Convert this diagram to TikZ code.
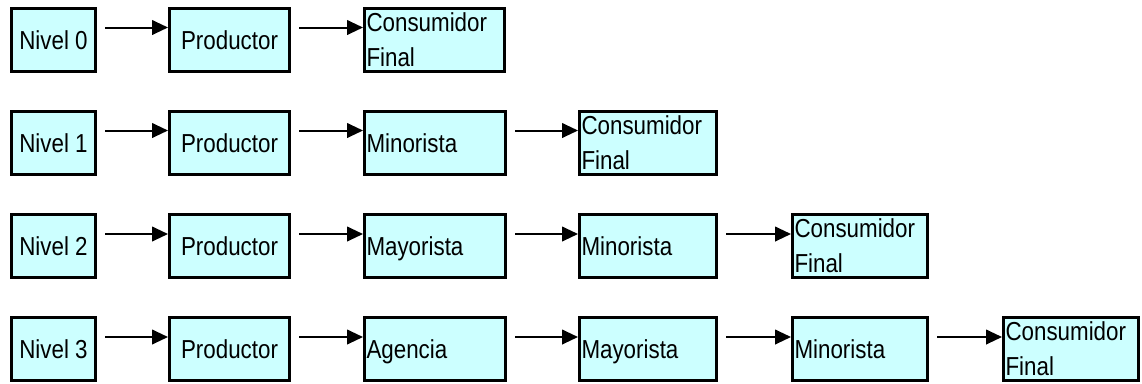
\documentclass[tikz,border=0pt]{standalone}
\usepackage{fontspec}
\setmainfont{Liberation Sans}[FakeStretch=0.86]
\usetikzlibrary{arrows.meta,calc}
\definecolor{celeste}{RGB}{204,255,255}

\tikzset{every picture/.style={line width=0.75pt}}

\begin{document}
\begin{tikzpicture}[x=0.75pt,y=0.75pt,yscale=-1,xscale=1,
    caja/.style={draw, fill=celeste, line width=2.25pt, minimum height=47.25pt, inner sep=0pt, font=\fontsize{19.5}{26.25}\selectfont},
    nivel/.style={caja, minimum width=63pt, text height=14.6pt, text depth=0pt},
    prod/.style={caja, minimum width=90pt, text height=14.6pt, text depth=0pt},
    etapa/.style={caja, text width=#1, align=left, inner xsep=1.5pt, text height=14.6pt, text depth=0pt},
    final/.style={caja, text width=#1, align=left, inner xsep=1.5pt},
    flecha/.style={line width=1.5pt, -{Triangle[length=12pt,width=11pt]}}]
\useasboundingbox (0,0) rectangle (1142,383);

% Nivel 0
\node [nivel] (n0) at (53.5,39.5) {Nivel 0};
\node [prod] (p0) at (229.5,39.5) {Productor};
\node [final=102pt] (c0) at (434.5,39.5) {Consumidor\\Final};
\draw [flecha] ($(n0.east)+(8,-12)$) -- ($(p0.west)+(0,-12)$);
\draw [flecha] ($(p0.east)+(8,-12)$) -- ($(c0.west)+(0,-12)$);

% Nivel 1
\node [nivel] (n1) at (53.5,142.5) {Nivel 1};
\node [prod] (p1) at (229.5,142.5) {Productor};
\node [etapa=102.75pt] (m1) at (435,142.5) {Minorista};
\node [final=99.75pt] (c1) at (648,142.5) {Consumidor\\Final};
\draw [flecha] ($(n1.east)+(8,-12)$) -- ($(p1.west)+(0,-12)$);
\draw [flecha] ($(p1.east)+(8,-12)$) -- ($(m1.west)+(0,-12)$);
\draw [flecha] ($(m1.east)+(8,-12)$) -- ($(c1.west)+(0,-12)$);

% Nivel 2
\node [nivel] (n2) at (53.5,246) {Nivel 2};
\node [prod] (p2) at (229.5,246) {Productor};
\node [etapa=102.75pt] (y2) at (435,246) {Mayorista};
\node [etapa=99.75pt] (m2) at (648,246) {Minorista};
\node [final=98.25pt] (c2) at (860,246) {Consumidor\\Final};
\draw [flecha] ($(n2.east)+(8,-12)$) -- ($(p2.west)+(0,-12)$);
\draw [flecha] ($(p2.east)+(8,-12)$) -- ($(y2.west)+(0,-12)$);
\draw [flecha] ($(y2.east)+(8,-12)$) -- ($(m2.west)+(0,-12)$);
\draw [flecha] ($(m2.east)+(8,-12)$) -- ($(c2.west)+(0,-12)$);

% Nivel 3
\node [nivel] (n3) at (53.5,349) {Nivel 3};
\node [prod] (p3) at (229.5,349) {Productor};
\node [etapa=102.75pt] (a3) at (435,349) {Agencia};
\node [etapa=99.75pt] (y3) at (648,349) {Mayorista};
\node [etapa=98.25pt] (m3) at (860,349) {Minorista};
\node [final=98.25pt] (c3) at (1071,349) {Consumidor\\Final};
\draw [flecha] ($(n3.east)+(8,-12)$) -- ($(p3.west)+(0,-12)$);
\draw [flecha] ($(p3.east)+(8,-12)$) -- ($(a3.west)+(0,-12)$);
\draw [flecha] ($(a3.east)+(8,-12)$) -- ($(y3.west)+(0,-12)$);
\draw [flecha] ($(y3.east)+(8,-12)$) -- ($(m3.west)+(0,-12)$);
\draw [flecha] ($(m3.east)+(8,-12)$) -- ($(c3.west)+(0,-12)$);

\end{tikzpicture}
\end{document}
